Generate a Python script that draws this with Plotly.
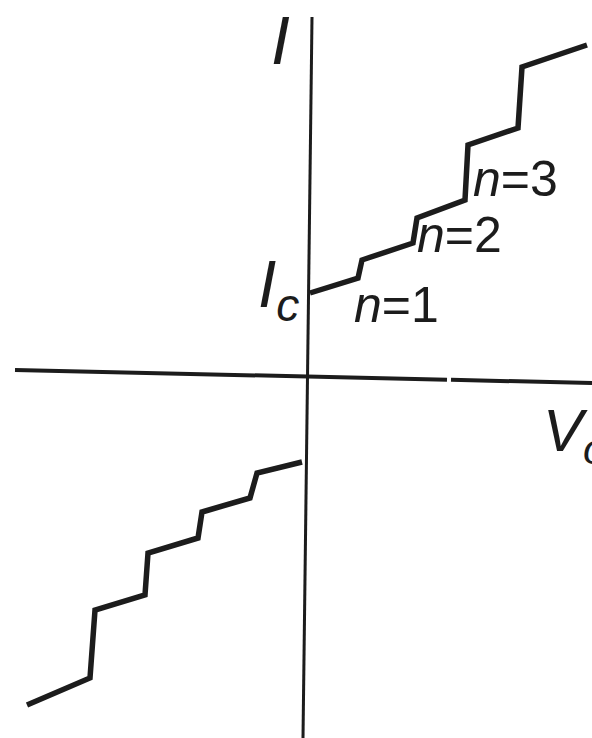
import plotly.graph_objects as go

# Current-voltage characteristic with Shapiro steps (arbitrary units)
upper_V = [0.04, 0.52, 0.56, 1.07, 1.11, 1.59, 1.62, 2.12, 2.16, 2.81]
upper_I = [0.83, 0.98, 1.16, 1.33, 1.58, 1.76, 2.31, 2.48, 3.09, 3.31]

lower_V = [-0.04, -0.49, -0.56, -1.04, -1.08, -1.58, -1.61, -2.11, -2.16, -2.79]
lower_I = [-0.86, -0.97, -1.22, -1.36, -1.62, -1.77, -2.19, -2.34, -3.02, -3.29]

# Hand-drawn axes (slightly skewed), horizontal one has a small break
i_axis_V = [0.06, -0.03]
i_axis_I = [3.59, -3.62]
v_axis_left_V = [-2.91, 1.41]
v_axis_left_I = [0.06, -0.037]
v_axis_right_V = [1.45, 2.86]
v_axis_right_I = [-0.038, -0.07]

step_labels = ["n=1", "n=2", "n=3"]
step_label_V = [0.90, 1.53, 2.09]
step_label_I = [0.71, 1.41, 1.97]

INK = "#1c1c1c"
FONT = "Liberation Sans, Arial, sans-serif"

fig = go.Figure()

fig.add_trace(go.Scatter(x=i_axis_V, y=i_axis_I, mode="lines",
                         line=dict(color=INK, width=3), hoverinfo="skip"))
fig.add_trace(go.Scatter(x=v_axis_left_V, y=v_axis_left_I, mode="lines",
                         line=dict(color=INK, width=4), hoverinfo="skip"))
fig.add_trace(go.Scatter(x=v_axis_right_V, y=v_axis_right_I, mode="lines",
                         line=dict(color=INK, width=4), hoverinfo="skip"))

fig.add_trace(go.Scatter(x=upper_V, y=upper_I, mode="lines",
                         line=dict(color=INK, width=5.5), hoverinfo="skip"))
fig.add_trace(go.Scatter(x=lower_V, y=lower_I, mode="lines",
                         line=dict(color=INK, width=5.5), hoverinfo="skip"))

annotations = []
for txt, xv, yv in zip(step_labels, step_label_V, step_label_I):
    n, rest = txt.split("=")
    annotations.append(dict(x=xv, y=yv, text=f"<i>{n}</i>={rest}", showarrow=False,
                            xanchor="center", yanchor="middle",
                            font=dict(family=FONT, size=50, color=INK)))

# current axis name
annotations.append(dict(x=-0.26, y=3.36, text="<i>I</i>", showarrow=False,
                        xanchor="center", yanchor="middle",
                        font=dict(family=FONT, size=68, color=INK)))
# critical current marker
annotations.append(dict(x=-0.28, y=0.87, text="<i>I</i><sub><i>c</i></sub>", showarrow=False,
                        xanchor="center", yanchor="middle",
                        font=dict(family=FONT, size=66, color=INK)))
# voltage axis name
annotations.append(dict(x=2.35, y=-0.59, text="<i>V</i><sub><i>o</i></sub>", showarrow=False,
                        xanchor="left", yanchor="middle",
                        font=dict(family=FONT, size=60, color=INK)))

fig.update_layout(
    width=592, height=738,
    margin=dict(l=0, r=0, t=0, b=0),
    paper_bgcolor="white", plot_bgcolor="white",
    showlegend=False,
    xaxis=dict(range=[-3.06, 2.86], visible=False, fixedrange=True),
    yaxis=dict(range=[-3.62, 3.76], visible=False, fixedrange=True),
    annotations=annotations,
)

fig.write_html("out.html")
